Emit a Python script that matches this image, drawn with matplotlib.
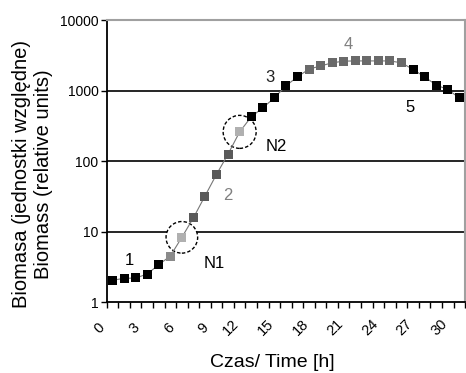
import numpy as np
import matplotlib
matplotlib.use('Agg')
import matplotlib.pyplot as plt
from matplotlib.patches import Circle
from matplotlib.transforms import ScaledTranslation

plt.rcParams['font.family'] = ['Liberation Sans', 'DejaVu Sans']

# Data: biomass per hour (log scale), growth phase of each point
hours = list(range(31))
biomass = [2.05, 2.17, 2.2, 2.5, 3.4, 4.5, 8.3, 15.7, 32, 65, 126,
           260, 425, 570, 790, 1170, 1570, 2020, 2240, 2480, 2620, 2640,
           2640, 2640, 2640, 2480, 2000, 1570, 1200, 1040, 790]
point_colors = (['#000000'] * 5 + ['#8a8a8a', '#b0b0b0'] + ['#5a5a5a'] * 4
                + ['#b0b0b0'] + ['#000000'] * 5 + ['#6a6a6a'] * 9
                + ['#000000'] * 5)
point_colors[11] = '#b0b0b0'
point_colors[12] = '#000000'
xtick_vals = list(range(0, 31, 3))
ytick_vals = [1, 10, 100, 1000, 10000]
phase_labels = ['1', '2', '3', '4', '5']
phase_pos = [(1.5, 3.9), (10.0, 33), (13.6, 1550), (20.4, 4570), (25.75, 570)]
phase_colors = ['#000000', '#808080', '#222222', '#808080', '#000000']
circled = [6, 11]
circle_names = ['N1', 'N2']
circle_name_pos = [(7.9, 3.55), (13.25, 163)]

fig = plt.figure(figsize=(4.66, 3.73), dpi=100)
ax = fig.add_axes([0.229, 0.190, 0.769, 0.756])
ax.set_yscale('log')
ax.set_xlim(-0.5, 30.5)
ax.set_ylim(1, 10000)

for yv in [10, 100, 1000]:
    ax.axhline(yv, color='black', lw=1.2, zorder=1)

# dashed circles around the marked points (fixed size in screen space)
for i, r in zip(circled, [0.158, 0.165]):
    tr = fig.dpi_scale_trans + ScaledTranslation(hours[i], biomass[i], ax.transData)
    c = Circle((0, 0), r, transform=tr, facecolor='white', edgecolor='black',
               ls=(0, (2.5, 1.5)), lw=1.0, zorder=2)
    ax.add_patch(c)

ax.plot(hours, biomass, '-', color='#777777', lw=0.8, zorder=3)
ax.scatter(hours, biomass, marker='s', s=42, c=point_colors, edgecolors='none', zorder=4)

for lab, (px, py), col in zip(phase_labels, phase_pos, phase_colors):
    ax.text(px, py, lab, fontsize=12, color=col, ha='center', va='center')
for lab, (px, py) in zip(circle_names, circle_name_pos):
    ax.text(px, py, lab, fontsize=12, color='black', ha='left', va='center')

ax.set_yticks(ytick_vals)
ax.set_yticklabels([str(v) for v in ytick_vals])
ax.yaxis.set_minor_locator(matplotlib.ticker.NullLocator())
ax.set_xticks(xtick_vals)
ax.set_xticklabels([str(v) for v in xtick_vals], rotation=45, ha='center',
                   va='center', rotation_mode='anchor')
ax.set_xticks(np.arange(-0.5, 31, 1), minor=True)
ax.tick_params(axis='x', which='major', length=0, pad=18.5, labelsize=10.5)
ax.tick_params(axis='x', which='minor', length=4, width=1, direction='out')
ax.tick_params(axis='y', length=4, width=1, labelsize=10, pad=2)
# rotated labels sit left of their category, longer ones further left
for lbl, v in zip(ax.get_xticklabels(), xtick_vals):
    dx = -0.13 if v < 10 else -0.20
    lbl.set_transform(lbl.get_transform() + ScaledTranslation(dx, 0, fig.dpi_scale_trans))

for s in ['left', 'bottom']:
    ax.spines[s].set_color('black')
    ax.spines[s].set_linewidth(1.3)
for s in ['top', 'right']:
    ax.spines[s].set_color('#a0a0a0')
    ax.spines[s].set_linewidth(1.5)

ax.set_ylabel('Biomasa (jednostki względne)\nBiomass (relative units)',
              fontsize=14.5, linespacing=1.2)
ax.yaxis.set_label_coords(-0.15, 0.455)
ax.set_xlabel('Czas/ Time [h]', fontsize=14)
ax.xaxis.set_label_coords(0.462, -0.185)

fig.savefig('out.png', dpi=100)
